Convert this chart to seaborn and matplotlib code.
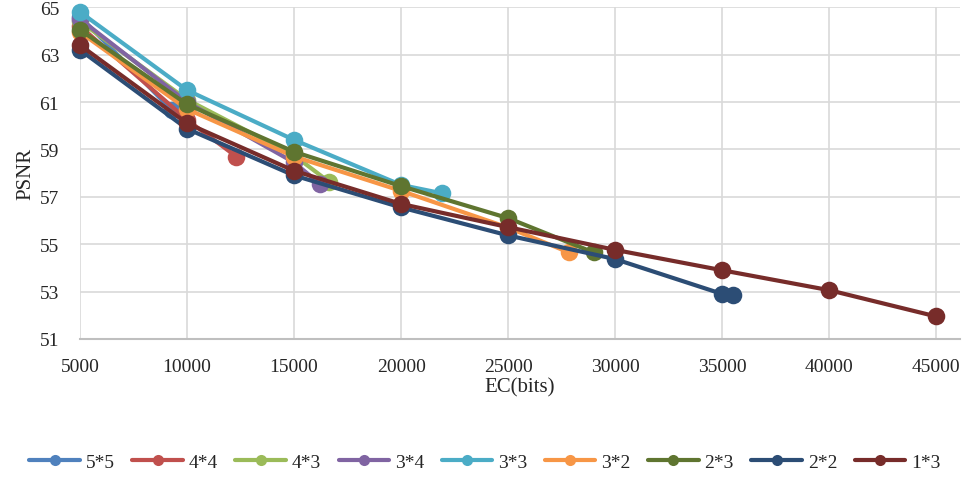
import matplotlib
matplotlib.use("Agg")
import matplotlib.pyplot as plt
import numpy as np
import pandas as pd
import seaborn as sns

# block sizes (legend order)
SERIES = ["5*5", "4*4", "4*3", "3*4", "3*3", "3*2", "2*3", "2*2", "1*3"]
COLORS = ["#4F81BD", "#C0504D", "#9BBB59", "#8064A2", "#4BACC6",
          "#F79646", "#5F7530", "#2C4D75", "#772C2A"]

EC = {
    "5*5": [5000, 9300],
    "4*4": [5000, 10000, 12300],
    "4*3": [5000, 10000, 15000, 16650],
    "3*4": [5000, 10000, 15000, 16200],
    "3*3": [5000, 10000, 15000, 20000, 21900],
    "3*2": [5000, 10000, 15000, 20000, 25000, 27850],
    "2*3": [5000, 10000, 15000, 20000, 25000, 29000],
    "2*2": [5000, 10000, 15000, 20000, 25000, 30000, 35000, 35500],
    "1*3": [5000, 10000, 15000, 20000, 25000, 30000, 35000, 40000, 45000],
}
PSNR = {
    "5*5": [64.6, 60.65],
    "4*4": [64.2, 60.25, 58.7],
    "4*3": [64.4, 61.1, 58.75, 57.62],
    "3*4": [64.5, 61.0, 58.45, 57.55],
    "3*3": [64.8, 61.5, 59.4, 57.5, 57.15],
    "3*2": [63.95, 60.7, 58.7, 57.25, 55.7, 54.65],
    "2*3": [64.05, 60.9, 58.9, 57.45, 56.1, 54.65],
    "2*2": [63.2, 59.87, 57.9, 56.55, 55.37, 54.37, 52.9, 52.87],
    "1*3": [63.4, 60.1, 58.1, 56.7, 55.72, 54.76, 53.9, 53.06, 51.95],
}

rows = []
for name in SERIES:
    for x, y in zip(EC[name], PSNR[name]):
        rows.append({"EC": x, "PSNR": y, "block": name})
df = pd.DataFrame(rows)

sns.set_theme(style="white")
plt.rcParams["font.family"] = ["Liberation Serif", "DejaVu Serif"]

fig = plt.figure(figsize=(9.7, 4.85), dpi=100)
ax = fig.add_axes([0.0825, 0.299, 0.907, 0.684])

for i, name in enumerate(SERIES):
    sub = df[df["block"] == name]
    sns.lineplot(data=sub, x="EC", y="PSNR", color=COLORS[i], marker="o",
                 markersize=8, markeredgewidth=0, linewidth=3.3,
                 estimator=None, sort=False, label=name, ax=ax, zorder=3 + i)
    # big round markers like the original
    sns.scatterplot(data=sub, x="EC", y="PSNR", color=COLORS[i], s=160,
                    linewidth=0, legend=False, ax=ax, zorder=3 + i,
                    clip_on=False)

ax.set_xlim(5000, 46100)
ax.set_ylim(51, 65)
ax.set_xticks(np.arange(5000, 45001, 5000))
ax.set_yticks(np.arange(51, 66, 2))
ax.grid(True, color="#d9d9d9", linewidth=1.2)
for s in ["top", "right", "left"]:
    ax.spines[s].set_visible(False)
ax.spines["bottom"].set_color("#bfbfbf")
ax.spines["bottom"].set_linewidth(1.5)
ax.tick_params(axis="both", labelsize=14, length=0)
ax.tick_params(axis="x", pad=14)
ax.tick_params(axis="y", pad=15)
ax.set_xlabel("EC(bits)", fontsize=15, labelpad=1)
ax.set_ylabel("PSNR", fontsize=15, labelpad=3)

handles, labels = ax.get_legend_handles_labels()
for h in handles:
    h.set_markersize(8)
    h.set_linewidth(3)
ax.legend(handles, labels, loc="center", bbox_to_anchor=(0.5, 0.045),
          bbox_transform=fig.transFigure, ncol=9, frameon=False,
          fontsize=14, handlelength=2.6, handletextpad=0.3,
          columnspacing=0.9)

fig.savefig("out.png", dpi=100)
